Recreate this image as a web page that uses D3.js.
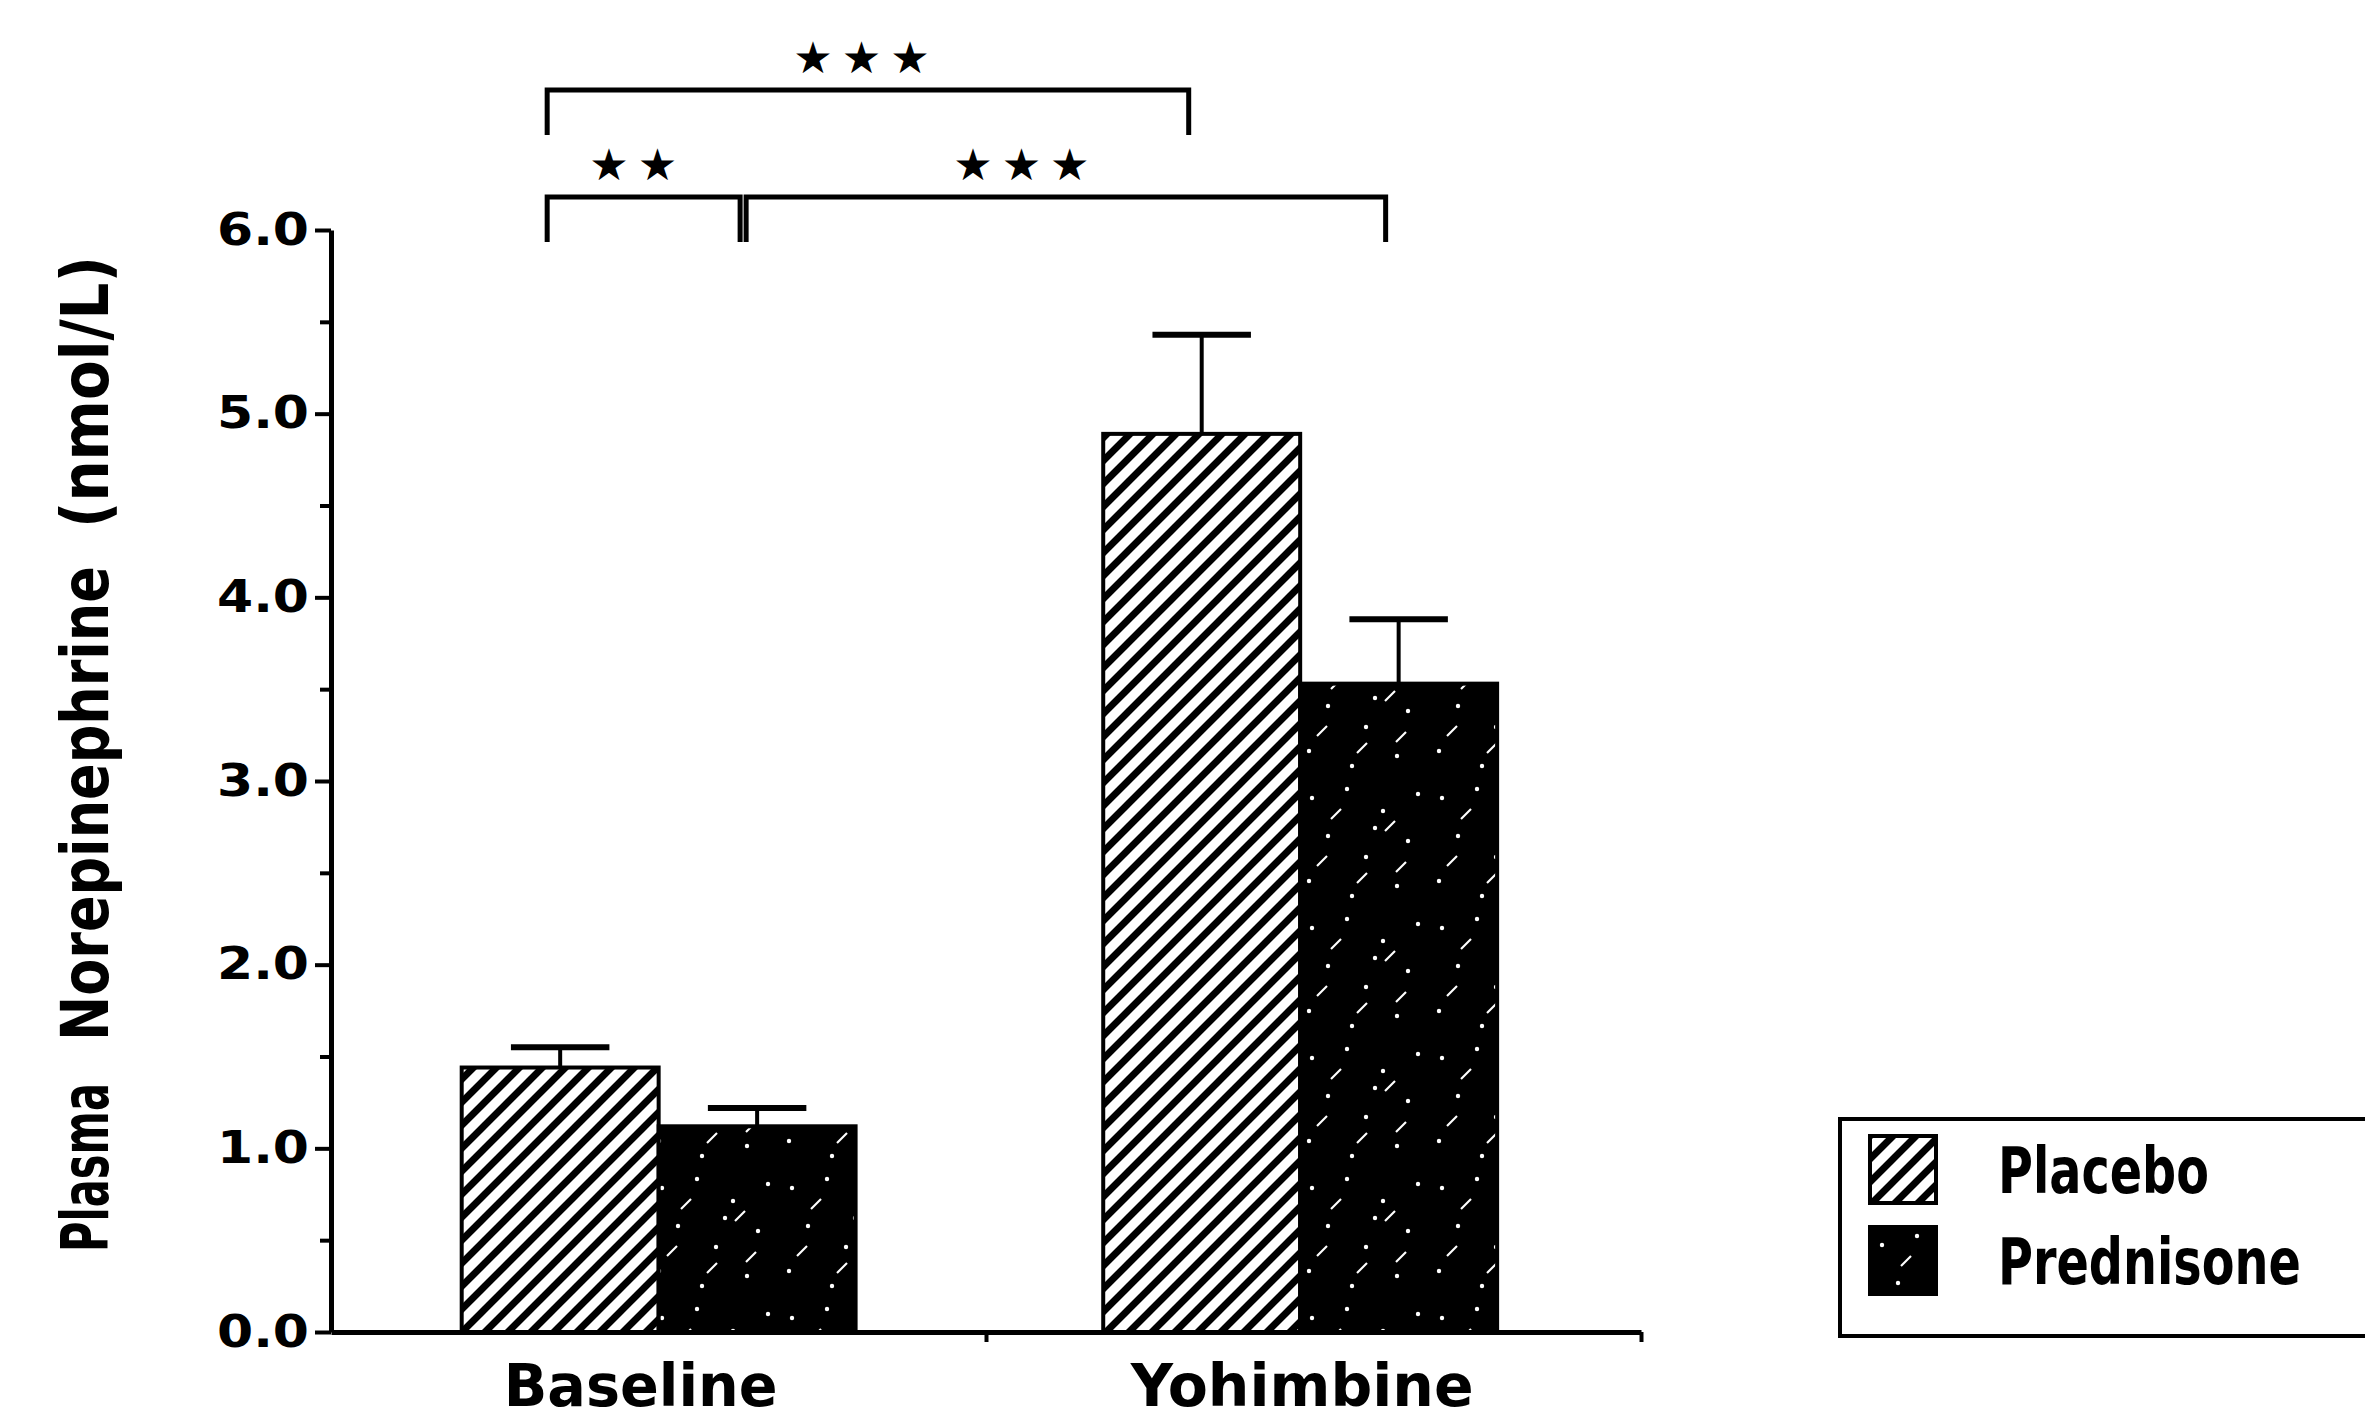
<!DOCTYPE html>
<html>
<head>
<meta charset="utf-8">
<script src="https://cdn.jsdelivr.net/npm/d3@7"></script>
<style>
  body { margin: 0; background: #fff; }
  text { font-family: "DejaVu Sans", sans-serif; font-weight: bold; fill: #000; }
</style>
</head>
<body>
<div id="chart"></div>
<script>
// values (nmol/L, mean and SEM)
const groups = ["Baseline", "Yohimbine"];
const treatments = ["Placebo", "Prednisone"];
const placeboMean = [1.44, 4.89];
const placeboSem = [0.11, 0.54];
const prednisoneMean = [1.12, 3.53];
const prednisoneSem = [0.10, 0.35];
const yTicks = [0, 1, 2, 3, 4, 5, 6];
const yMinorTicks = [0.5, 1.5, 2.5, 3.5, 4.5, 5.5];
const yTitle = ["Plasma", "Norepinephrine", "(nmol/L)"];

// significance comparisons
const compFrom = [["Baseline", "Placebo"], ["Baseline", "Placebo"], ["Baseline", "Prednisone"]];
const compTo = [["Yohimbine", "Placebo"], ["Baseline", "Prednisone"], ["Yohimbine", "Prednisone"]];
const compStars = ["★★★", "★★", "★★★"];
const compLevel = [1, 0, 0];

const bars = groups.flatMap((g, i) => [
  { group: g, treatment: "Placebo", mean: placeboMean[i], sem: placeboSem[i] },
  { group: g, treatment: "Prednisone", mean: prednisoneMean[i], sem: prednisoneSem[i] },
]);

const size = { width: 2365, height: 1420 };
const plot = { left: 331, right: 1641, top: 230, bottom: 1332 };

const svg = d3.select("#chart")
  .append("svg")
  .attr("width", size.width)
  .attr("height", size.height);

// squeeze a label horizontally so it spans the given width
const fit = (sel, xFn, yFn, wFn, extra = "") =>
  sel.attr("transform", function (d, i) {
    const s = wFn(d, i) / this.getComputedTextLength();
    return `translate(${xFn(d, i)},${yFn(d, i)}) ${extra} scale(${s},1)`;
  });

// fill patterns
const defs = svg.append("defs");
const hatch = defs.append("pattern")
  .attr("id", "hatch")
  .attr("patternUnits", "userSpaceOnUse")
  .attr("width", 23)
  .attr("height", 23);
hatch.append("rect").attr("width", 23).attr("height", 23).attr("fill", "#fff");
hatch.append("path")
  .attr("d", "M0,23L23,0M-6,6L6,-6M17,29L29,17")
  .attr("stroke", "#000")
  .attr("stroke-width", 7);

const speck = defs.append("pattern")
  .attr("id", "speck")
  .attr("patternUnits", "userSpaceOnUse")
  .attr("width", 130)
  .attr("height", 130);
speck.append("rect").attr("width", 130).attr("height", 130).attr("fill", "#000");
// a few white specks and little slashes, like the print texture
const dots = [[12, 18], [47, 9], [83, 31], [108, 61], [28, 56], [66, 77], [9, 101], [52, 116], [97, 106], [75, 48], [118, 14]];
speck.selectAll("circle")
  .data(dots)
  .join("circle")
  .attr("cx", (d) => d[0])
  .attr("cy", (d) => d[1])
  .attr("r", 2.2)
  .attr("fill", "#fff");
const dashes = [[36, 34], [101, 87], [22, 81], [62, 98], [90, 46]];
speck.selectAll("line")
  .data(dashes)
  .join("line")
  .attr("x1", (d) => d[0] - 5)
  .attr("y1", (d) => d[1] + 5)
  .attr("x2", (d) => d[0] + 5)
  .attr("y2", (d) => d[1] - 5)
  .attr("stroke", "#fff")
  .attr("stroke-width", 2.2);

const fills = { Placebo: "url(#hatch)", Prednisone: "url(#speck)" };

// scales
const x0 = d3.scaleBand()
  .domain(groups)
  .range([plot.left, plot.right])
  .paddingInner(0.386)
  .paddingOuter(0.214)
  .align(0.476);

const x1 = d3.scaleBand()
  .domain(treatments)
  .range([0, x0.bandwidth()]);

const y = d3.scaleLinear()
  .domain([0, 6])
  .range([plot.bottom, plot.top]);

const barCenter = (g, t) => x0(g) + x1(t) + x1.bandwidth() / 2;

// bars
svg.append("g")
  .selectAll("rect")
  .data(bars)
  .join("rect")
  .attr("x", (d) => x0(d.group) + x1(d.treatment))
  .attr("y", (d) => y(d.mean))
  .attr("width", x1.bandwidth())
  .attr("height", (d) => y(0) - y(d.mean))
  .attr("fill", (d) => fills[d.treatment])
  .attr("stroke", "#000")
  .attr("stroke-width", 4);

// error bars (upper half only)
const err = svg.append("g").attr("stroke", "#000");
err.selectAll(".stem")
  .data(bars)
  .join("line")
  .attr("class", "stem")
  .attr("x1", (d) => barCenter(d.group, d.treatment))
  .attr("x2", (d) => barCenter(d.group, d.treatment))
  .attr("y1", (d) => y(d.mean))
  .attr("y2", (d) => y(d.mean + d.sem))
  .attr("stroke-width", 4);
err.selectAll(".cap")
  .data(bars)
  .join("line")
  .attr("class", "cap")
  .attr("x1", (d) => barCenter(d.group, d.treatment) - x1.bandwidth() / 4)
  .attr("x2", (d) => barCenter(d.group, d.treatment) + x1.bandwidth() / 4)
  .attr("y1", (d) => y(d.mean + d.sem))
  .attr("y2", (d) => y(d.mean + d.sem))
  .attr("stroke-width", 6);

// y axis
const yAxis = svg.append("g")
  .attr("transform", `translate(${plot.left},0)`)
  .call(d3.axisLeft(y).tickValues(yTicks).tickFormat(d3.format(".1f")).tickSize(16).tickSizeOuter(0).tickPadding(6));
yAxis.select(".domain").attr("stroke-width", 5);
yAxis.selectAll(".tick line").attr("stroke-width", 4);
yAxis.selectAll(".tick text")
  .attr("font-size", 44)
  .attr("font-family", null)
  .attr("textLength", 92)
  .attr("lengthAdjust", "spacingAndGlyphs");

svg.append("g")
  .attr("transform", `translate(${plot.left},0)`)
  .call(d3.axisLeft(y).tickValues(yMinorTicks).tickFormat("").tickSize(11).tickSizeOuter(0))
  .call((g) => g.select(".domain").remove())
  .selectAll(".tick line")
  .attr("stroke-width", 4);

// x axis line with its small ticks
const xLine = d3.scaleLinear().domain([0, 2]).range([plot.left, plot.right]);
const xAxis = svg.append("g")
  .attr("transform", `translate(0,${plot.bottom})`)
  .call(d3.axisBottom(xLine).tickValues([1, 2]).tickFormat("").tickSize(10).tickSizeOuter(0));
xAxis.select(".domain").attr("stroke-width", 5);
xAxis.selectAll(".tick line").attr("stroke-width", 4);

// group labels
const groupWidth = { Baseline: 274, Yohimbine: 343 };
const groupShift = { Baseline: -18, Yohimbine: 2 };
svg.append("g")
  .selectAll("text")
  .data(groups)
  .join("text")
  .attr("font-size", 58)
  .text((d) => d)
  .call(fit,
    (d) => x0(d) + x0.bandwidth() / 2 + groupShift[d] - groupWidth[d] / 2,
    () => 1406,
    (d) => groupWidth[d]);

// y axis title, one word at a time
const titleStart = [1252, 1041, 528];
const titleWidth = [169, 475, 272];
svg.append("g")
  .selectAll("text")
  .data(yTitle)
  .join("text")
  .attr("font-size", 66)
  .text((d) => d)
  .call(fit, () => 108, (d, i) => titleStart[i], (d, i) => titleWidth[i], "rotate(-90)");

// significance brackets
const levelY = [197, 90];
const legDrop = 45;
const starShift = [-8, -12, -46];
const brackets = svg.append("g");
compFrom.forEach((from, i) => {
  const to = compTo[i];
  let xa = barCenter(from[0], from[1]) - 13;
  let xb = barCenter(to[0], to[1]) - 13;
  if (i === 1) xb -= 4;
  if (i === 2) xa += 2;
  const yl = levelY[compLevel[i]];
  brackets.append("path")
    .attr("d", `M${xa},${yl + legDrop}V${yl}H${xb}V${yl + legDrop}`)
    .attr("fill", "none")
    .attr("stroke", "#000")
    .attr("stroke-width", 5);
  brackets.append("text")
    .attr("x", (xa + xb) / 2 + starShift[i] + 6)
    .attr("y", yl - 32)
    .attr("text-anchor", "middle")
    .attr("font-size", 44)
    .attr("letter-spacing", 9)
    .attr("dy", "0.35em")
    .text(compStars[i]);
});

// legend
const legend = svg.append("g");
legend.append("rect")
  .attr("x", 1840)
  .attr("y", 1119)
  .attr("width", 600)
  .attr("height", 217)
  .attr("fill", "#fff")
  .attr("stroke", "#000")
  .attr("stroke-width", 4);
const legendWidth = { Placebo: 211, Prednisone: 303 };
const item = legend.selectAll(".item")
  .data(treatments)
  .join("g")
  .attr("class", "item")
  .attr("transform", (d, i) => `translate(1870,${1136 + i * 91})`);
item.append("rect")
  .attr("width", 66)
  .attr("height", 67)
  .attr("fill", (d) => fills[d])
  .attr("stroke", "#000")
  .attr("stroke-width", 4);
item.append("text")
  .attr("font-size", 64)
  .text((d) => d)
  .call(fit, () => 128, () => 57, (d) => legendWidth[d]);
</script>
</body>
</html>
